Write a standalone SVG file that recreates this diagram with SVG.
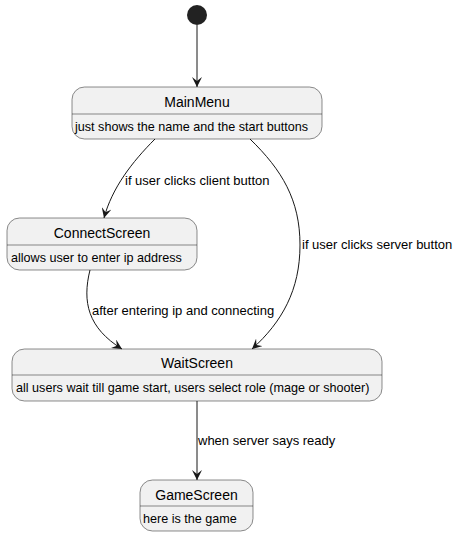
<svg xmlns="http://www.w3.org/2000/svg" width="460" height="537" viewBox="0 0 460 537">
<defs>
<style>
.st{fill:#F1F1F1;stroke:#181818;stroke-width:0.5}
.dv{stroke:#181818;stroke-width:0.5}
.t{font-family:"Liberation Sans",Arial,sans-serif;font-size:14px;fill:#000;text-anchor:middle}
.b{font-family:"Liberation Sans",Arial,sans-serif;font-size:12.6px;fill:#000}
.l{font-family:"Liberation Sans",Arial,sans-serif;font-size:13px;fill:#000}
.e{fill:none;stroke:#181818;stroke-width:1;marker-end:url(#ah)}
</style>
<marker id="ah" viewBox="0 0 10 10" refX="10" refY="5" markerWidth="10" markerHeight="10" markerUnits="userSpaceOnUse" orient="auto">
<polygon points="0,0 10,5 0,10 4,5" fill="#181818"/>
</marker>
</defs>
<g id="start"><circle cx="197" cy="15" r="10" fill="#222222"/></g>
<g id="MainMenu">
<rect class="st" x="72" y="87" width="250" height="52" rx="12.5"/>
<line class="dv" x1="72" y1="114" x2="322" y2="114"/>
<text class="t" x="197" y="107">MainMenu</text>
<text class="b" x="75" y="131">just shows the name and the start buttons</text>
</g>
<g id="ConnectScreen">
<rect class="st" x="7" y="218" width="190" height="52" rx="12.5"/>
<line class="dv" x1="7" y1="245" x2="197" y2="245"/>
<text class="t" x="102" y="238">ConnectScreen</text>
<text class="b" x="11" y="262">allows user to enter ip address</text>
</g>
<g id="WaitScreen">
<rect class="st" x="12" y="349" width="370" height="52" rx="12.5"/>
<line class="dv" x1="12" y1="375" x2="382" y2="375"/>
<text class="t" x="197" y="368">WaitScreen</text>
<text class="b" x="16" y="392">all users wait till game start, users select role (mage or shooter)</text>
</g>
<g id="GameScreen">
<rect class="st" x="140" y="480" width="113" height="51" rx="12.5"/>
<line class="dv" x1="140" y1="506" x2="253" y2="506"/>
<text class="t" x="196.5" y="500">GameScreen</text>
<text class="b" x="143" y="523">here is the game</text>
</g>
<g id="connectors">
<path class="e" d="M197,25 L197,87"/>
<path class="e" d="M155,139 C132,162 112,188 104,218"/>
<path class="e" d="M250,139 C282,170 300,200 300,245 C300,290 282,322 252,349"/>
<path class="e" d="M90,270 C82,302 88,328 122,349"/>
<path class="e" d="M197,401 L197,480"/>
<text class="l" x="125" y="185">if user clicks client button</text>
<text class="l" x="302" y="249">if user clicks server button</text>
<text class="l" x="92" y="315">after entering ip and connecting</text>
<text class="l" x="198" y="445">when server says ready</text>
</g>
</svg>
